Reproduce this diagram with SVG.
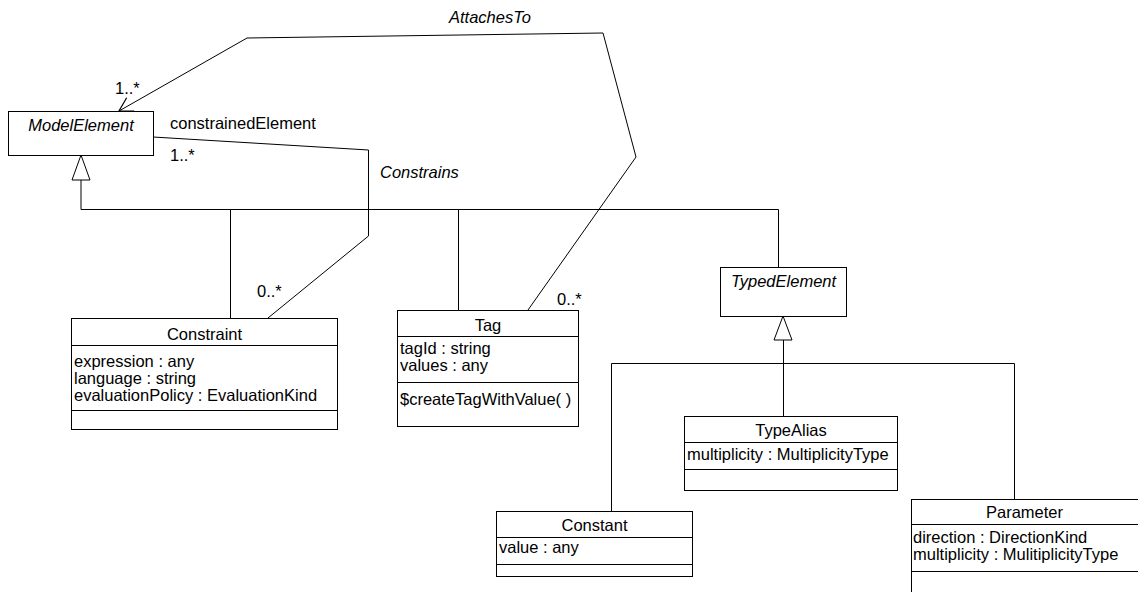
<svg xmlns="http://www.w3.org/2000/svg" width="1138" height="592" viewBox="0 0 1138 592">
<style>
  .box { fill: #ffffff; stroke: #000000; stroke-width: 1; }
  .ln { fill: none; stroke: #000000; stroke-width: 1; }
  .gen { fill: #ffffff; stroke: #000000; stroke-width: 1; }
  text { font-family: "Liberation Sans", Arial, sans-serif; font-size: 16.5px; fill: #000000; }
  .it { font-style: italic; }
  .c { text-anchor: middle; }
</style>
<defs>
  <marker id="open" markerUnits="userSpaceOnUse" markerWidth="24" markerHeight="24" refX="0" refY="0" viewBox="-14 -10 16 20" orient="auto">
    <path d="M -11,-6.4 L 0,0 L -11,6.4" fill="none" stroke="#000000" stroke-width="1"/>
  </marker>
</defs>
<rect width="1138" height="592" fill="#ffffff"/>

<g id="connectors">
  <!-- generalization to ModelElement -->
  <polygon class="gen" points="81,155 72,180 90,180"/>
  <path class="ln" d="M81,180 V209.5 M81,209.5 H778.5 M230.5,209.5 V318 M458.5,209.5 V310 M778.5,209.5 V267"/>
  <!-- generalization to TypedElement -->
  <polygon class="gen" points="783,316 774,340 792,340"/>
  <path class="ln" d="M783.5,340 V363.5 M611.5,363.5 H1014.5 M611.5,363.5 V511 M783.5,363.5 V416 M1014.5,363.5 V499"/>
  <!-- Constrains -->
  <polyline class="ln" points="153,137 368.5,150 368.5,236 268,318"/>
  <!-- AttachesTo -->
  <polyline class="ln" points="528,310 636,157 603,33 247,38 119,111" marker-end="url(#open)"/>
  <text x="449" y="23" class="it">AttachesTo</text>
  <text x="380" y="178" class="it">Constrains</text>
  <text x="170" y="129">constrainedElement</text>
  <text x="115" y="94">1..*</text>
  <text x="170" y="161">1..*</text>
  <text x="257" y="297">0..*</text>
  <text x="557" y="305">0..*</text>
</g>

<g id="ModelElement">
  <rect class="box" x="8.5" y="111.5" width="145" height="44"/>
  <text x="81" y="131" class="it c">ModelElement</text>
</g>

<g id="Constraint">
  <rect class="box" x="71.5" y="318.5" width="266" height="111"/>
  <path class="ln" d="M71.5,345.5 H337.5 M71.5,410.5 H337.5"/>
  <text x="204.5" y="340" class="c">Constraint</text>
  <text x="74" y="367">expression : any</text>
  <text x="74" y="384">language : string</text>
  <text x="74" y="401">evaluationPolicy : EvaluationKind</text>
</g>

<g id="Tag">
  <rect class="box" x="397.5" y="310.5" width="181" height="116"/>
  <path class="ln" d="M397.5,336.5 H578.5 M397.5,382.5 H578.5"/>
  <text x="488" y="331" class="c">Tag</text>
  <text x="400" y="354">tagId : string</text>
  <text x="400" y="371">values : any</text>
  <text x="400" y="405">$createTagWithValue( )</text>
</g>

<g id="TypedElement">
  <rect class="box" x="720.5" y="267.5" width="126" height="49"/>
  <text x="783.5" y="287" class="it c">TypedElement</text>
</g>

<g id="TypeAlias">
  <rect class="box" x="684.5" y="416.5" width="213" height="74"/>
  <path class="ln" d="M684.5,442.5 H897.5 M684.5,469.5 H897.5"/>
  <text x="791" y="436" class="c">TypeAlias</text>
  <text x="687" y="460">multiplicity : MultiplicityType</text>
</g>

<g id="Constant">
  <rect class="box" x="496.5" y="511.5" width="196" height="65"/>
  <path class="ln" d="M496.5,537.5 H692.5 M496.5,564.5 H692.5"/>
  <text x="594.5" y="531" class="c">Constant</text>
  <text x="499" y="553">value : any</text>
</g>

<g id="Parameter">
  <rect class="box" x="911.5" y="499.5" width="232" height="120"/>
  <path class="ln" d="M911.5,524.5 H1143 M911.5,571.5 H1143"/>
  <text x="1024.5" y="518" class="c">Parameter</text>
  <text x="913" y="543">direction : DirectionKind</text>
  <text x="913" y="560">multiplicity : MulitiplicityType</text>
</g>
</svg>
